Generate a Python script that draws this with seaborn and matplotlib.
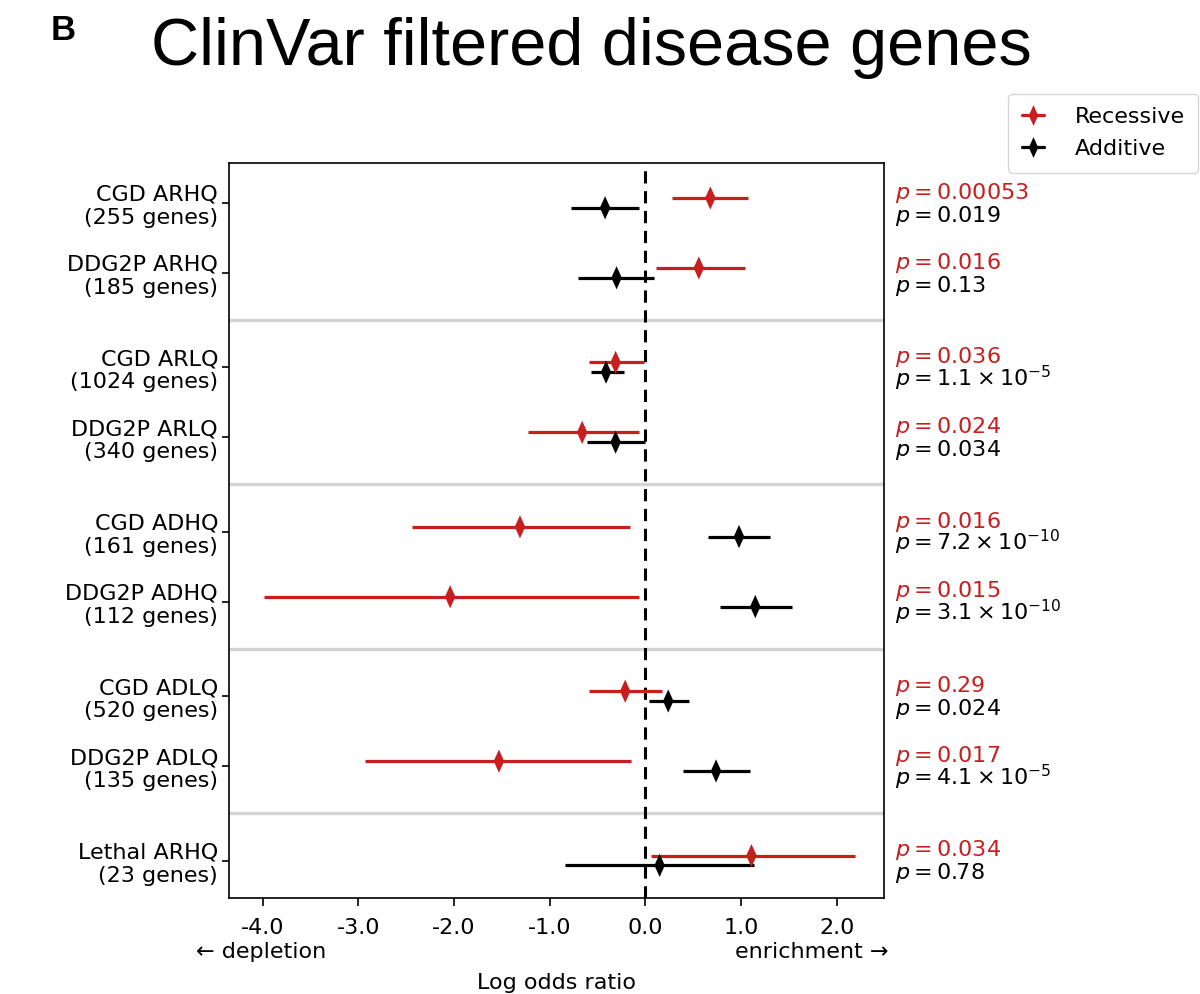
import matplotlib
matplotlib.use("Agg")
import matplotlib.pyplot as plt
from matplotlib.lines import Line2D
import numpy as np
import pandas as pd
import seaborn as sb

# gene sets, top to bottom (grouped in pairs, last one alone)
gene_sets = ["CGD ARHQ\n(255 genes)", "DDG2P ARHQ\n(185 genes)",
             "CGD ARLQ\n(1024 genes)", "DDG2P ARLQ\n(340 genes)",
             "CGD ADHQ\n(161 genes)", "DDG2P ADHQ\n(112 genes)",
             "CGD ADLQ\n(520 genes)", "DDG2P ADLQ\n(135 genes)",
             "Lethal ARHQ\n(23 genes)"]
groups = [0, 0, 1, 1, 2, 2, 3, 3, 4]

# log odds ratio estimates and confidence intervals
rec_est = [0.68, 0.56, -0.31, -0.66, -1.31, -2.04, -0.21, -1.53, 1.11]
rec_lo = [0.28, 0.11, -0.59, -1.23, -2.44, -3.99, -0.59, -2.93, 0.06]
rec_hi = [1.07, 1.04, -0.01, -0.07, -0.16, -0.07, 0.18, -0.15, 2.19]
add_est = [-0.42, -0.30, -0.41, -0.31, 0.98, 1.15, 0.24, 0.74, 0.15]
add_lo = [-0.78, -0.70, -0.57, -0.61, 0.66, 0.78, 0.04, 0.39, -0.84]
add_hi = [-0.07, 0.09, -0.22, 0.00, 1.30, 1.53, 0.46, 1.10, 1.14]

rec_p = [r"$p = 0.00053$", r"$p = 0.016$", r"$p = 0.036$", r"$p = 0.024$",
         r"$p = 0.016$", r"$p = 0.015$", r"$p = 0.29$", r"$p = 0.017$",
         r"$p = 0.034$"]
add_p = [r"$p = 0.019$", r"$p = 0.13$", r"$p = 1.1 \times 10^{-5}$",
         r"$p = 0.034$", r"$p = 7.2 \times 10^{-10}$",
         r"$p = 3.1 \times 10^{-10}$", r"$p = 0.024$",
         r"$p = 4.1 \times 10^{-5}$", r"$p = 0.78$"]

xticks = [-4.0, -3.0, -2.0, -1.0, 0.0, 1.0, 2.0]
xtick_labels = ["-4.0", "-3.0", "-2.0", "-1.0", "0.0", "1.0", "2.0"]

RED = "#c81e1e"
BLACK = "black"
FS = 16

sb.set_style("ticks", {"axes.edgecolor": "black", "text.color": "black",
                       "xtick.color": "black", "ytick.color": "black",
                       "axes.labelcolor": "black"})
plt.rcParams["font.family"] = ["DejaVu Sans"]

# row positions: pairs one unit apart, groups spaced wider
ypos = np.array([g * 2.35 + (i - 2 * g) for i, g in enumerate(groups)])
off = 0.07

df = pd.DataFrame({
    "y": np.concatenate([ypos - off, ypos + off]),
    "est": rec_est + add_est,
    "lo": rec_lo + add_lo,
    "hi": rec_hi + add_hi,
    "model": ["Recessive"] * len(ypos) + ["Additive"] * len(ypos),
})

fig = plt.figure(figsize=(12, 9.94), dpi=100)
ax = fig.add_axes([0.191, 0.097, 0.546, 0.739])

# group separators and null line
for g in range(4):
    ax.axhline(g * 2.35 + 1.675, color="#d3d3d3", lw=2.4, zorder=1)
ax.axvline(0, color="black", lw=2.2, ls=(0, (4, 2.5)), zorder=2)

palette = {"Recessive": RED, "Additive": BLACK}
for model, sub in df.groupby("model"):
    ax.hlines(sub["y"], sub["lo"], sub["hi"], color=palette[model], lw=2.3, zorder=3)

diamond = [(0, 1), (0.45, 0), (0, -1), (-0.45, 0), (0, 1)]
sb.scatterplot(data=df, x="est", y="y", hue="model", palette=palette,
               marker=diamond, s=280, linewidth=0, legend=False, zorder=4, ax=ax)

ax.set_xlim(-4.35, 2.5)
ax.set_ylim(ypos[-1] + 0.53, -0.57)
ax.set_xticks(xticks)
ax.set_xticklabels(xtick_labels, fontsize=FS)
ax.set_yticks(ypos)
ax.set_yticklabels(gene_sets, fontsize=FS)
ax.tick_params(axis="x", length=6, width=1.2, pad=9)
ax.tick_params(axis="y", length=5, width=1.2, pad=3)
for sp in ax.spines.values():
    sp.set_linewidth(1.2)
ax.set_xlabel("Log odds ratio", fontsize=FS)
ax.xaxis.set_label_coords(0.5, -0.102)
ax.set_ylabel("")

ax.text(-0.05, -0.0735, "\u2190 depletion", transform=ax.transAxes,
        ha="left", va="center", fontsize=FS)
ax.text(1.006, -0.0735, "enrichment \u2192", transform=ax.transAxes,
        ha="right", va="center", fontsize=FS)

# p-values on the right
trans = matplotlib.transforms.blended_transform_factory(ax.transAxes, ax.transData)
for y, pr, pa in zip(ypos, rec_p, add_p):
    ax.text(1.016, y - 0.06, pr, color=RED, transform=trans, fontsize=FS,
            ha="left", va="baseline")
    ax.text(1.016, y + 0.27, pa, color=BLACK, transform=trans, fontsize=FS,
            ha="left", va="baseline")

handles = [Line2D([], [], color=RED, lw=2.3, marker=diamond, markersize=15, markeredgewidth=0),
           Line2D([], [], color=BLACK, lw=2.3, marker=diamond, markersize=15, markeredgewidth=0)]
fig.legend(handles, ["Recessive", "Additive"], loc="upper right",
           bbox_to_anchor=(1.008, 0.917), fontsize=FS, handlelength=1.0,
           handletextpad=1.4, labelspacing=0.55, borderpad=0.6,
           frameon=True, edgecolor="#cccccc", fancybox=True)

fig.text(0.493, 0.935, "ClinVar filtered disease genes", fontsize=48,
         family="Liberation Sans", ha="center", va="baseline")
fig.text(0.042, 0.96, "B", fontsize=25, family="Liberation Sans",
         weight="bold", ha="left", va="baseline")

fig.savefig("out.png", dpi=100)
